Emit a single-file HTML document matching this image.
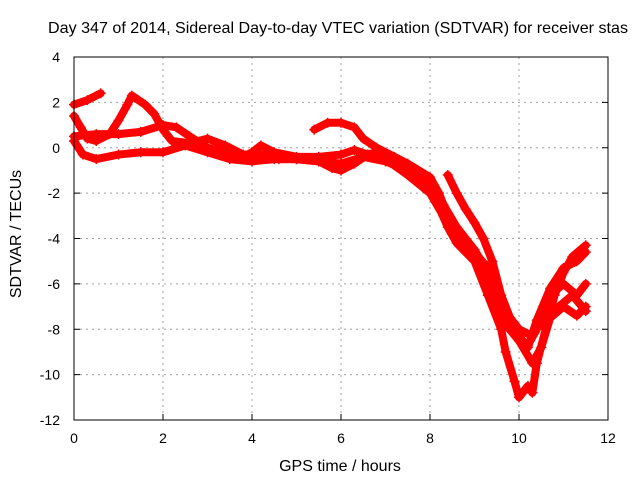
<!DOCTYPE html>
<html><head><meta charset="utf-8"><style>
body{margin:0;background:#fff}
svg{display:block;font-family:"Liberation Sans",sans-serif}
</style></head><body>
<svg id="chart" width="640" height="480" viewBox="0 0 640 480" xmlns="http://www.w3.org/2000/svg">
<text x="48" y="33" font-size="16" fill="#000" textLength="580" lengthAdjust="spacingAndGlyphs">Day 347 of 2014, Sidereal Day-to-day VTEC variation (SDTVAR) for receiver stas</text>
<text x="340" y="471" font-size="16" text-anchor="middle">GPS time / hours</text>
<text transform="translate(21,234) rotate(-90)" font-size="16" text-anchor="middle">SDTVAR / TECUs</text>
<g id="grid"></g>
<g id="ticks"></g>
<g id="series"></g>
<rect x="74" y="57" width="534" height="363" fill="none" stroke="#000" stroke-width="1"/>
</svg>
<script>
const xTicks=[0,2,4,6,8,10,12];
const yTicks=[4,2,0,-2,-4,-6,-8,-10,-12];
const s1=[[0,1.9],[0.3,2.1],[0.6,2.4]];
const s2=[[0,1.4],[0.15,0.9],[0.3,0.4],[0.5,0.3],[0.8,0.6],[1.0,1.2],[1.2,1.9],[1.3,2.3],[1.6,1.9],[1.8,1.5],[2.0,0.8],[2.2,0.3],[2.6,0.2],[3.0,0.4],[3.4,0.1],[3.8,-0.3],[4.2,-0.3],[4.6,-0.5],[5.0,-0.5],[5.5,-0.6],[6.0,-0.7],[6.5,-0.4],[7.0,-0.6],[7.5,-1.0],[8.0,-1.8],[8.3,-2.5],[8.6,-3.5],[9.0,-4.5],[9.3,-5.5],[9.6,-7],[9.8,-8],[10.0,-8.5],[10.2,-8.7],[10.4,-8.0],[10.6,-7.2],[10.9,-7.0],[11.2,-6.5],[11.5,-7.2]];
const s3=[[0,0.5],[0.5,0.6],[1.0,0.6],[1.5,0.7],[2.0,1.0],[2.3,0.9],[2.6,0.5],[3.0,0],[3.4,-0.2],[3.8,-0.4],[4.0,-0.2],[4.2,0.1],[4.5,-0.2],[5.0,-0.4],[5.5,-0.4],[6.0,-0.3],[6.3,-0.1],[6.6,-0.3],[7.0,-0.5],[7.5,-1.2],[8.0,-2.0],[8.3,-3.0],[8.5,-3.8],[8.8,-4.2],[9.0,-4.6],[9.3,-5.3],[9.5,-6.3],[9.8,-7.5],[10.0,-8.3],[10.2,-8.8],[10.4,-7.6],[10.7,-6.2],[11.0,-5.3],[11.3,-5.0],[11.5,-4.6]];
const s4=[[0,0.3],[0.2,-0.3],[0.5,-0.5],[1.0,-0.3],[1.5,-0.2],[2.0,-0.2],[2.5,0.1],[3,-0.2],[3.5,-0.5],[4,-0.6],[4.5,-0.5],[5,-0.5],[5.5,-0.6],[5.8,-0.9],[6,-1.0],[6.3,-0.7],[6.6,-0.3],[6.8,-0.2],[7.2,-0.7],[7.6,-1.0],[8,-1.6],[8.2,-2.6],[8.4,-3.5],[8.6,-4.2],[9.0,-5.0],[9.3,-6.5],[9.6,-8],[9.7,-9],[9.9,-10.3],[10.0,-11],[10.2,-10.5],[10.3,-10.8],[10.4,-9.5],[10.6,-8.0],[10.8,-6.5],[11.0,-5.5],[11.2,-4.8],[11.5,-4.3]];
const s5=[[5.4,0.8],[5.7,1.1],[6.0,1.1],[6.3,0.9],[6.5,0.4],[6.8,0],[7.2,-0.4],[7.5,-0.7],[8.0,-1.3],[8.2,-2.0],[8.4,-3.0],[8.6,-3.9],[8.8,-4.2],[9.0,-4.5],[9.2,-5.5],[9.4,-6.5],[9.7,-7.8],[10.0,-8.5],[10.3,-9.5],[10.5,-8.8],[10.7,-7.5],[11.0,-7.0],[11.3,-7.4],[11.5,-7.0]];
const s6=[[8.4,-1.2],[8.6,-2.0],[8.8,-2.7],[9.0,-3.3],[9.2,-4.0],[9.4,-5.0],[9.6,-6.5],[9.8,-7.5],[10.0,-8.0],[10.3,-8.3],[10.5,-7.5],[10.7,-6.5],[11.0,-6.0],[11.3,-6.5],[11.5,-6.0]];
const allSeries=[s1,s2,s3,s4,s5,s6];
const NS="http://www.w3.org/2000/svg";
const X0=74,X1=608,Y0=57,Y1=420,xMin=0,xMax=12,yMin=-12,yMax=4;
function sx(t){return X0+(t-xMin)/(xMax-xMin)*(X1-X0);}
function sy(v){return Y0+(yMax-v)/(yMax-yMin)*(Y1-Y0);}
function mk(tag,attrs,parent){const e=document.createElementNS(NS,tag);for(const k in attrs)e.setAttribute(k,attrs[k]);parent.appendChild(e);return e;}
const grid=document.getElementById('grid'),ticks=document.getElementById('ticks'),ser=document.getElementById('series');
xTicks.forEach(t=>{
  const x=sx(t);
  if(t>xMin&&t<xMax){const g=mk('line',{x1:x,x2:x,y1:Y0,y2:Y1,stroke:'#a0a0a0','stroke-dasharray':'2,4'},grid);
  
  }
  const tm=mk('line',{x1:x,x2:x,y1:Y1,y2:Y1-6,stroke:'#000'},ticks);
  
  
  const tx=mk('text',{x:x,y:Y1+23,'font-size':14,'text-anchor':'middle'},ticks);
  tx.textContent=t;
  
  
});
yTicks.forEach(v=>{
  const y=sy(v);
  if(v>yMin&&v<yMax){const g=mk('line',{x1:X0,x2:X1,y1:y,y2:y,stroke:'#a0a0a0','stroke-dasharray':'2,4'},grid);
  
  }
  const tm=mk('line',{x1:X0,x2:X0+6,y1:y,y2:y,stroke:'#000'},ticks);
  
  
  const tm2=mk('line',{x1:X1,x2:X1-6,y1:y,y2:y,stroke:'#000'},ticks);
  
  
  const tx=mk('text',{x:X0-14,y:y+5,'font-size':14,'text-anchor':'end'},ticks);
  tx.textContent=v;
  
  
});
allSeries.forEach((s,i)=>{
  const pl=mk('polyline',{points:s.map(p=>sx(p[0])+','+sy(p[1])).join(' '),fill:'none',stroke:'#ff0000','stroke-width':8,'stroke-linejoin':'round','stroke-linecap':'round'},ser);
  
  
  s.forEach(p=>{
    const x=sx(p[0]),y=sy(p[1]);
    const m=mk('path',{d:`M${x-5},${y}H${x+5}M${x},${y-5}V${y+5}`,stroke:'#ff0000','stroke-width':1.5},ser);
    
    
  });
});
</script>
</body></html>
